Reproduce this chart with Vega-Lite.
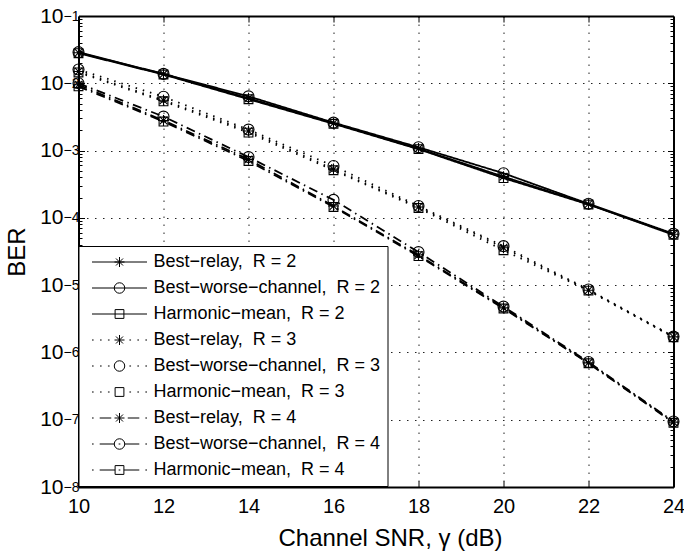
{
  "$schema": "https://vega.github.io/schema/vega-lite/v6.json",
  "width": 595,
  "height": 471,
  "autosize": {"type": "none"},
  "padding": {"left": 78.5, "top": 16, "right": 10.5, "bottom": 66},
  "background": "white",
  "config": {"font": "Liberation Sans", "view": {"stroke": null}},
  "data": {"values": [
    {"x":10,"y":0.0285,"m":"Best−relay","R":"2","s":"Best−relay,  R = 2"},
    {"x":12,"y":0.0137,"m":"Best−relay","R":"2","s":"Best−relay,  R = 2"},
    {"x":14,"y":0.0060,"m":"Best−relay","R":"2","s":"Best−relay,  R = 2"},
    {"x":16,"y":0.00255,"m":"Best−relay","R":"2","s":"Best−relay,  R = 2"},
    {"x":18,"y":0.00107,"m":"Best−relay","R":"2","s":"Best−relay,  R = 2"},
    {"x":20,"y":0.00041,"m":"Best−relay","R":"2","s":"Best−relay,  R = 2"},
    {"x":22,"y":0.00016,"m":"Best−relay","R":"2","s":"Best−relay,  R = 2"},
    {"x":24,"y":0.000057,"m":"Best−relay","R":"2","s":"Best−relay,  R = 2"},
    {"x":10,"y":0.029,"m":"Best−worse−channel","R":"2","s":"Best−worse−channel,  R = 2"},
    {"x":12,"y":0.0138,"m":"Best−worse−channel","R":"2","s":"Best−worse−channel,  R = 2"},
    {"x":14,"y":0.0064,"m":"Best−worse−channel","R":"2","s":"Best−worse−channel,  R = 2"},
    {"x":16,"y":0.0026,"m":"Best−worse−channel","R":"2","s":"Best−worse−channel,  R = 2"},
    {"x":18,"y":0.00112,"m":"Best−worse−channel","R":"2","s":"Best−worse−channel,  R = 2"},
    {"x":20,"y":0.00046,"m":"Best−worse−channel","R":"2","s":"Best−worse−channel,  R = 2"},
    {"x":22,"y":0.000162,"m":"Best−worse−channel","R":"2","s":"Best−worse−channel,  R = 2"},
    {"x":24,"y":0.000058,"m":"Best−worse−channel","R":"2","s":"Best−worse−channel,  R = 2"},
    {"x":10,"y":0.028,"m":"Harmonic−mean","R":"2","s":"Harmonic−mean,  R = 2"},
    {"x":12,"y":0.0135,"m":"Harmonic−mean","R":"2","s":"Harmonic−mean,  R = 2"},
    {"x":14,"y":0.0058,"m":"Harmonic−mean","R":"2","s":"Harmonic−mean,  R = 2"},
    {"x":16,"y":0.0025,"m":"Harmonic−mean","R":"2","s":"Harmonic−mean,  R = 2"},
    {"x":18,"y":0.00105,"m":"Harmonic−mean","R":"2","s":"Harmonic−mean,  R = 2"},
    {"x":20,"y":0.00039,"m":"Harmonic−mean","R":"2","s":"Harmonic−mean,  R = 2"},
    {"x":22,"y":0.000158,"m":"Harmonic−mean","R":"2","s":"Harmonic−mean,  R = 2"},
    {"x":24,"y":0.000056,"m":"Harmonic−mean","R":"2","s":"Harmonic−mean,  R = 2"},
    {"x":10,"y":0.015,"m":"Best−relay","R":"3","s":"Best−relay,  R = 3"},
    {"x":12,"y":0.0056,"m":"Best−relay","R":"3","s":"Best−relay,  R = 3"},
    {"x":14,"y":0.00195,"m":"Best−relay","R":"3","s":"Best−relay,  R = 3"},
    {"x":16,"y":0.00053,"m":"Best−relay","R":"3","s":"Best−relay,  R = 3"},
    {"x":18,"y":0.000145,"m":"Best−relay","R":"3","s":"Best−relay,  R = 3"},
    {"x":20,"y":0.000036,"m":"Best−relay","R":"3","s":"Best−relay,  R = 3"},
    {"x":22,"y":0.0000084,"m":"Best−relay","R":"3","s":"Best−relay,  R = 3"},
    {"x":24,"y":0.0000017,"m":"Best−relay","R":"3","s":"Best−relay,  R = 3"},
    {"x":10,"y":0.016,"m":"Best−worse−channel","R":"3","s":"Best−worse−channel,  R = 3"},
    {"x":12,"y":0.0063,"m":"Best−worse−channel","R":"3","s":"Best−worse−channel,  R = 3"},
    {"x":14,"y":0.00205,"m":"Best−worse−channel","R":"3","s":"Best−worse−channel,  R = 3"},
    {"x":16,"y":0.00059,"m":"Best−worse−channel","R":"3","s":"Best−worse−channel,  R = 3"},
    {"x":18,"y":0.00015,"m":"Best−worse−channel","R":"3","s":"Best−worse−channel,  R = 3"},
    {"x":20,"y":0.000038,"m":"Best−worse−channel","R":"3","s":"Best−worse−channel,  R = 3"},
    {"x":22,"y":0.0000086,"m":"Best−worse−channel","R":"3","s":"Best−worse−channel,  R = 3"},
    {"x":24,"y":0.00000172,"m":"Best−worse−channel","R":"3","s":"Best−worse−channel,  R = 3"},
    {"x":10,"y":0.0145,"m":"Harmonic−mean","R":"3","s":"Harmonic−mean,  R = 3"},
    {"x":12,"y":0.0054,"m":"Harmonic−mean","R":"3","s":"Harmonic−mean,  R = 3"},
    {"x":14,"y":0.00185,"m":"Harmonic−mean","R":"3","s":"Harmonic−mean,  R = 3"},
    {"x":16,"y":0.00051,"m":"Harmonic−mean","R":"3","s":"Harmonic−mean,  R = 3"},
    {"x":18,"y":0.00014,"m":"Harmonic−mean","R":"3","s":"Harmonic−mean,  R = 3"},
    {"x":20,"y":0.000033,"m":"Harmonic−mean","R":"3","s":"Harmonic−mean,  R = 3"},
    {"x":22,"y":0.0000083,"m":"Harmonic−mean","R":"3","s":"Harmonic−mean,  R = 3"},
    {"x":24,"y":0.00000168,"m":"Harmonic−mean","R":"3","s":"Harmonic−mean,  R = 3"},
    {"x":10,"y":0.0095,"m":"Best−relay","R":"4","s":"Best−relay,  R = 4"},
    {"x":12,"y":0.0028,"m":"Best−relay","R":"4","s":"Best−relay,  R = 4"},
    {"x":14,"y":0.00074,"m":"Best−relay","R":"4","s":"Best−relay,  R = 4"},
    {"x":16,"y":0.00015,"m":"Best−relay","R":"4","s":"Best−relay,  R = 4"},
    {"x":18,"y":0.000028,"m":"Best−relay","R":"4","s":"Best−relay,  R = 4"},
    {"x":20,"y":0.0000046,"m":"Best−relay","R":"4","s":"Best−relay,  R = 4"},
    {"x":22,"y":0.0000007,"m":"Best−relay","R":"4","s":"Best−relay,  R = 4"},
    {"x":24,"y":0.000000092,"m":"Best−relay","R":"4","s":"Best−relay,  R = 4"},
    {"x":10,"y":0.010,"m":"Best−worse−channel","R":"4","s":"Best−worse−channel,  R = 4"},
    {"x":12,"y":0.0032,"m":"Best−worse−channel","R":"4","s":"Best−worse−channel,  R = 4"},
    {"x":14,"y":0.0008,"m":"Best−worse−channel","R":"4","s":"Best−worse−channel,  R = 4"},
    {"x":16,"y":0.000185,"m":"Best−worse−channel","R":"4","s":"Best−worse−channel,  R = 4"},
    {"x":18,"y":0.000031,"m":"Best−worse−channel","R":"4","s":"Best−worse−channel,  R = 4"},
    {"x":20,"y":0.0000048,"m":"Best−worse−channel","R":"4","s":"Best−worse−channel,  R = 4"},
    {"x":22,"y":0.00000072,"m":"Best−worse−channel","R":"4","s":"Best−worse−channel,  R = 4"},
    {"x":24,"y":0.000000094,"m":"Best−worse−channel","R":"4","s":"Best−worse−channel,  R = 4"},
    {"x":10,"y":0.009,"m":"Harmonic−mean","R":"4","s":"Harmonic−mean,  R = 4"},
    {"x":12,"y":0.0027,"m":"Harmonic−mean","R":"4","s":"Harmonic−mean,  R = 4"},
    {"x":14,"y":0.0007,"m":"Harmonic−mean","R":"4","s":"Harmonic−mean,  R = 4"},
    {"x":16,"y":0.000145,"m":"Harmonic−mean","R":"4","s":"Harmonic−mean,  R = 4"},
    {"x":18,"y":0.000027,"m":"Harmonic−mean","R":"4","s":"Harmonic−mean,  R = 4"},
    {"x":20,"y":0.0000045,"m":"Harmonic−mean","R":"4","s":"Harmonic−mean,  R = 4"},
    {"x":22,"y":0.00000069,"m":"Harmonic−mean","R":"4","s":"Harmonic−mean,  R = 4"},
    {"x":24,"y":0.00000009,"m":"Harmonic−mean","R":"4","s":"Harmonic−mean,  R = 4"}
  ]},
  "layer": [
    {
      "mark": {"type": "line", "color": "black", "strokeWidth": 1.8, "strokeCap": "butt"},
      "encoding": {
        "x": {"field": "x", "type": "quantitative", "scale": {"domain": [10, 24], "nice": false, "zero": false},
          "axis": {"orient": "bottom", "values": [10,12,14,16,18,20,22,24], "title": "Channel SNR, γ (dB)",
            "grid": true, "gridDash": [1.5, 6.5], "gridColor": "#222", "gridWidth": 1,
            "tickSize": -6, "tickColor": "black", "tickWidth": 1,
            "labelFontSize": 20, "labelPadding": 15, "labelColor": "black", "labelFlush": false, "labelFont": "Liberation Sans",
            "domainColor": "black", "domainWidth": 2,
            "titleFontSize": 24, "titleFontWeight": "normal", "titleColor": "black", "titleFont": "Liberation Sans",
            "titleX": 311.5, "titleY": 58, "titleBaseline": "alphabetic", "titleAlign": "center"}},
        "y": {"field": "y", "type": "quantitative", "scale": {"type": "log", "domain": [1e-8, 0.1], "nice": false},
          "axis": {"orient": "left", "values": [1e-8,1e-7,1e-6,1e-5,1e-4,1e-3,1e-2,1e-1], "labelExpr": "'10'",
            "grid": true, "gridDash": [1.5, 6.5], "gridColor": "#222", "gridWidth": 1,
            "tickSize": -6, "tickColor": "black", "tickWidth": 1,
            "labelFontSize": 21, "labelPadding": 21.5, "labelColor": "black", "labelFlush": false, "labelFont": "Liberation Sans",
            "domainColor": "black", "domainWidth": 2,
            "title": "BER", "titleFontSize": 24, "titleFontWeight": "normal", "titleColor": "black", "titleFont": "Liberation Sans",
            "titleX": -54.5, "titleY": 235.5, "titleAngle": -90, "titleBaseline": "alphabetic", "titleAlign": "center"}},
        "detail": {"field": "s"},
        "order": {"field": "x"},
        "strokeDash": {"field": "R", "type": "nominal", "scale": {"domain": ["2","3","4"], "range": [[1,0],[1.5,6],[9,4.5,1.5,4.5]]}, "legend": null}
      }
    },
    {
      "mark": {"type": "point", "filled": false, "color": "black", "strokeWidth": 1.1, "size": 121, "opacity": 1},
      "encoding": {
        "x": {"field": "x", "type": "quantitative", "scale": {"domain": [10, 24], "nice": false, "zero": false},
          "axis": {"orient": "top", "values": [12,14,16,18,20,22], "labels": false, "grid": false, "tickSize": -6, "tickColor": "black", "tickWidth": 1, "domainColor": "black", "domainWidth": 2, "title": null}},
        "y": {"field": "y", "type": "quantitative", "scale": {"type": "log", "domain": [1e-8, 0.1], "nice": false},
          "axis": {"orient": "right", "values": [1e-7,1e-6,1e-5,1e-4,1e-3,1e-2], "labels": false, "grid": false, "tickSize": -6, "tickColor": "black", "tickWidth": 1, "domainColor": "black", "domainWidth": 2, "title": null}},
        "shape": {"field": "m", "type": "nominal", "scale": {"domain": ["Best−relay","Best−worse−channel","Harmonic−mean"],
          "range": ["M0,-1V1M-1,0H1M-0.7,-0.7L0.7,0.7M-0.7,0.7L0.7,-0.7", "circle", "M-0.8,-0.8H0.8V0.8H-0.8Z"]}, "legend": null}
      }
    },
    {
      "mark": {"type": "point", "filled": false, "opacity": 0},
      "encoding": {
        "x": {"field": "x", "type": "quantitative", "scale": {"domain": [10, 24], "nice": false, "zero": false}, "axis": null},
        "y": {"field": "y", "type": "quantitative", "scale": {"type": "log", "domain": [1e-8, 0.1], "nice": false},
          "axis": {"orient": "left", "values": [2e-8,3e-8,4e-8,5e-8,6e-8,7e-8,8e-8,9e-8,2e-7,3e-7,4e-7,5e-7,6e-7,7e-7,8e-7,9e-7,2e-6,3e-6,4e-6,5e-6,6e-6,7e-6,8e-6,9e-6,2e-5,3e-5,4e-5,5e-5,6e-5,7e-5,8e-5,9e-5,2e-4,3e-4,4e-4,5e-4,6e-4,7e-4,8e-4,9e-4,2e-3,3e-3,4e-3,5e-3,6e-3,7e-3,8e-3,9e-3,2e-2,3e-2,4e-2,5e-2,6e-2,7e-2,8e-2,9e-2],
            "labels": false, "grid": false, "domain": false, "tickSize": -3.5, "tickColor": "black", "tickWidth": 1, "title": null}},
        "shape": {"field": "s", "type": "nominal",
          "scale": {"domain": ["Best−relay,  R = 2","Best−worse−channel,  R = 2","Harmonic−mean,  R = 2","Best−relay,  R = 3","Best−worse−channel,  R = 3","Harmonic−mean,  R = 3","Best−relay,  R = 4","Best−worse−channel,  R = 4","Harmonic−mean,  R = 4"],
            "range": [
              "M-5.5,0H5.5M0,-1V1M-1,0H1M-0.7,-0.7L0.7,0.7M-0.7,0.7L0.7,-0.7",
              "M-5.5,0H5.5M1.05,0A1.05,1.05,0,1,1,-1.05,0A1.05,1.05,0,1,1,1.05,0Z",
              "M-5.5,0H5.5M-0.88,-0.88H0.88V0.88H-0.88Z",
              "M-5.5,0H-5.17M-3.9,0H-3.57M-2.31,0H-1.98M1.98,0H2.31M3.57,0H3.9M5.17,0H5.5M0,-1V1M-1,0H1M-0.7,-0.7L0.7,0.7M-0.7,0.7L0.7,-0.7",
              "M-5.5,0H-5.17M-3.9,0H-3.57M-2.31,0H-1.98M1.98,0H2.31M3.57,0H3.9M5.17,0H5.5M1.05,0A1.05,1.05,0,1,1,-1.05,0A1.05,1.05,0,1,1,1.05,0Z",
              "M-5.5,0H-5.17M-3.9,0H-3.57M-2.31,0H-1.98M1.98,0H2.31M3.57,0H3.9M5.17,0H5.5M-0.88,-0.88H0.88V0.88H-0.88Z",
              "M-5.5,0H-5.17M-3.96,0H-1.65M1.65,0H3.96M5.17,0H5.5M0,-1V1M-1,0H1M-0.7,-0.7L0.7,0.7M-0.7,0.7L0.7,-0.7",
              "M-5.5,0H-5.17M-3.96,0H-1.05M1.05,0H3.96M5.17,0H5.5M-0.17,0H0.17M1.05,0A1.05,1.05,0,1,1,-1.05,0A1.05,1.05,0,1,1,1.05,0Z",
              "M-5.5,0H-5.17M-3.96,0H-0.88M0.88,0H3.96M5.17,0H5.5M-0.17,0H0.17M-0.88,-0.88H0.88V0.88H-0.88Z"
            ]},
          "legend": {"title": null, "orient": "none", "legendX": 0, "legendY": 230,
            "fillColor": "white", "strokeColor": "black",
            "padding": 7, "symbolOffset": 25, "labelOffset": 25, "rowPadding": 8,
            "labelFontSize": 18, "labelColor": "black", "labelFont": "Liberation Sans", "labelLimit": 500,
            "labelExpr": "replace(datum.label, ',  ', ',\u00a0\u00a0')",
            "symbolSize": 100, "symbolStrokeWidth": 1, "symbolStrokeColor": "black", "symbolFillColor": "transparent", "symbolOpacity": 1}}
      }
    },
    {
      "mark": {"type": "point", "opacity": 0},
      "encoding": {
        "x": {"field": "x", "type": "quantitative", "scale": {"domain": [10, 24], "nice": false, "zero": false}, "axis": null},
        "y": {"field": "y", "type": "quantitative", "scale": {"type": "log", "domain": [1e-8, 0.1], "nice": false},
          "axis": {"orient": "right", "values": [2e-8,3e-8,4e-8,5e-8,6e-8,7e-8,8e-8,9e-8,2e-7,3e-7,4e-7,5e-7,6e-7,7e-7,8e-7,9e-7,2e-6,3e-6,4e-6,5e-6,6e-6,7e-6,8e-6,9e-6,2e-5,3e-5,4e-5,5e-5,6e-5,7e-5,8e-5,9e-5,2e-4,3e-4,4e-4,5e-4,6e-4,7e-4,8e-4,9e-4,2e-3,3e-3,4e-3,5e-3,6e-3,7e-3,8e-3,9e-3,2e-2,3e-2,4e-2,5e-2,6e-2,7e-2,8e-2,9e-2],
            "labels": false, "grid": false, "domain": false, "tickSize": -3.5, "tickColor": "black", "tickWidth": 1, "title": null}}
      }
    },
    {
      "mark": {"type": "point", "opacity": 0},
      "encoding": {
        "x": {"field": "x", "type": "quantitative", "scale": {"domain": [10, 24], "nice": false, "zero": false}, "axis": null},
        "y": {"field": "y", "type": "quantitative", "scale": {"type": "log", "domain": [1e-8, 0.1], "nice": false},
          "axis": {"orient": "left", "values": [1e-8,1e-7,1e-6,1e-5,1e-4,1e-3,1e-2,1e-1],
            "labelExpr": "'−' + round(-log(datum.value)/LN10)",
            "ticks": false, "grid": false, "domain": false, "labelAlign": "left", "labelPadding": 15.5,
            "labelFontSize": 14, "labelDy": -8, "labelColor": "black", "labelFlush": false, "labelFont": "Liberation Sans", "title": null}}
      }
    }
  ],
  "resolve": {"scale": {"shape": "independent"}, "axis": {"x": "independent", "y": "independent"}, "legend": {"shape": "independent"}}
}
